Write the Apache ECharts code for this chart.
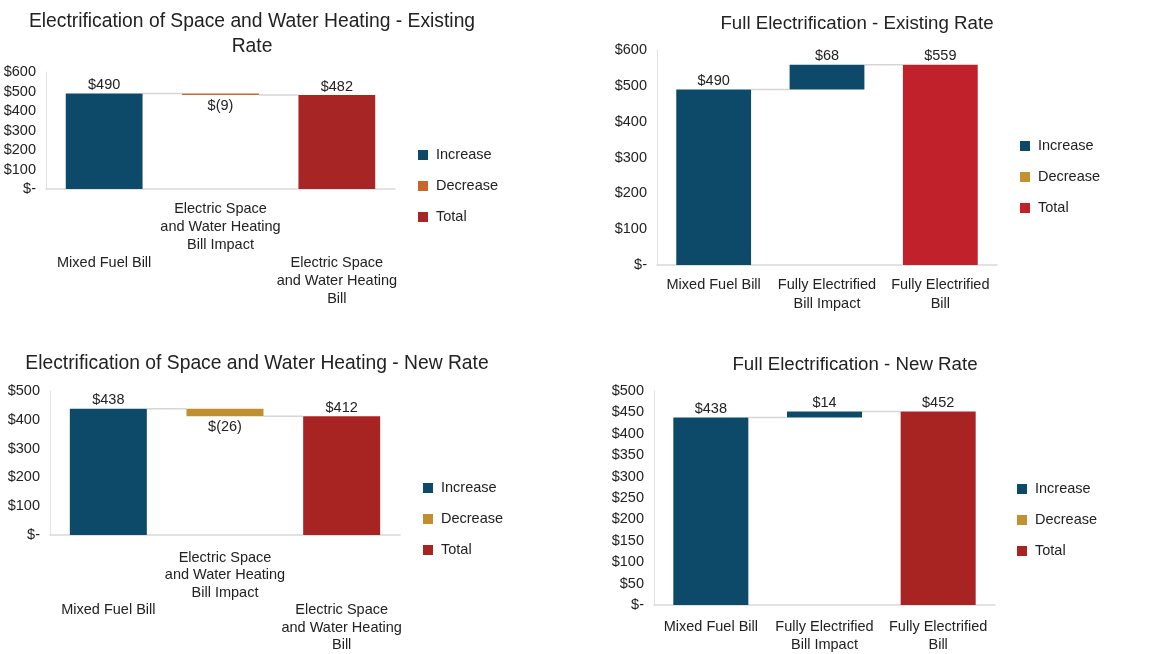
<!DOCTYPE html>
<html>
<head>
<meta charset="utf-8">
<title>Electrification bill impact</title>
<script src="https://cdn.jsdelivr.net/npm/echarts@6/dist/echarts.min.js"></script>
<style>
  html, body { margin: 0; padding: 0; background: #fff; }
  #main { width: 1156px; height: 654px; }
</style>
</head>
<body>
<div id="main"></div>
<script>
// chart data
const titles = [
  'Electrification of Space and Water Heating - Existing\nRate',
  'Full Electrification - Existing Rate',
  'Electrification of Space and Water Heating - New Rate',
  'Full Electrification - New Rate'
];
const heatingCats = ['Mixed Fuel Bill', 'Electric Space\nand Water Heating\nBill Impact', 'Electric Space\nand Water Heating\nBill'];
const fullCats = ['Mixed Fuel Bill', 'Fully Electrified\nBill Impact', 'Fully Electrified\nBill'];
const chartCats = [heatingCats, fullCats, heatingCats, fullCats];
const mixedBill = [490, 490, 438, 438];
const billImpact = [-9, 68, -26, 14];
const electrifiedBill = [482, 559, 412, 452];
const yMax = [600, 600, 500, 500];
const yStep = [100, 100, 100, 50];

// layout + colours per panel
const panels = [
  { grid: { left: 46, top: 72, width: 349, height: 117 }, title: [252, 9], titleSize: 19.3, legend: [418, 147],
    stagger: true, margin: 11, lineH: 18, dec: '#c8662c', total: '#a82525' },
  { grid: { left: 657, top: 50, width: 340, height: 215 }, title: [857, 11], titleSize: 18.7, legend: [1020, 138],
    stagger: false, margin: 11, lineH: 18.5, dec: '#c49030', total: '#c0212b' },
  { grid: { left: 50, top: 391, width: 350, height: 147 }, title: [257, 351], titleSize: 19.3, legend: [423, 480],
    stagger: true, margin: 14, lineH: 17.5, dec: '#c0902e', total: '#a82423' },
  { grid: { left: 654, top: 391, width: 341, height: 217 }, title: [855, 352], titleSize: 18.7, legend: [1017, 481],
    stagger: false, margin: 13, lineH: 18, dec: '#c49030', total: '#a82423' }
];
const blue = '#0d4a6a';
const font = 'Liberation Sans, Arial, sans-serif';
const ink = '#222';

const option = {
  backgroundColor: '#fff',
  animation: false,
  textStyle: { fontFamily: font },
  title: [], grid: [], xAxis: [], yAxis: [], legend: [], series: []
};

panels.forEach((p, k) => {
  const mixed = mixedBill[k], impact = billImpact[k], total = electrifiedBill[k];
  const low = Math.min(mixed, total), step = Math.abs(total - mixed);

  option.title.push({
    text: titles[k], left: p.title[0], top: p.title[1], textAlign: 'center', padding: 0,
    textStyle: { fontFamily: font, fontSize: p.titleSize, fontWeight: 'normal', color: ink, lineHeight: 25 }
  });
  option.grid.push(Object.assign({ containLabel: false }, p.grid));
  option.xAxis.push({
    type: 'category', gridIndex: k, data: chartCats[k],
    axisLine: { lineStyle: { color: '#d9d9d9', width: 1.5 } },
    axisTick: { show: false },
    axisLabel: {
      interval: 0, hideOverlap: false, margin: p.margin, color: ink, fontFamily: font, fontSize: 14.5, lineHeight: p.lineH,
      formatter: (v, i) => (p.stagger && i % 2 === 0 ? '\n\n\n' + v : v)
    }
  });
  option.yAxis.push({
    type: 'value', gridIndex: k, min: 0, max: yMax[k], interval: yStep[k],
    splitLine: { show: false },
    axisTick: { show: false },
    axisLine: { show: true, lineStyle: { color: '#e3e3e3', width: 1 } },
    axisLabel: { margin: 10, color: ink, fontFamily: font, fontSize: 14.5, formatter: v => (v === 0 ? '$-' : '$' + v) }
  });
  option.legend.push({
    orient: 'vertical', left: p.legend[0], top: p.legend[1], padding: 0,
    itemWidth: 10, itemHeight: 10, itemGap: 15, icon: 'rect', selectedMode: false,
    textStyle: { fontFamily: font, fontSize: 14.5, color: ink, lineHeight: 16, padding: [0, 0, 0, 3] },
    data: [
      { name: 'Increase', itemStyle: { color: blue } },
      { name: 'Decrease', itemStyle: { color: p.dec } },
      { name: 'Total', itemStyle: { color: p.total } }
    ]
  });

  const common = { type: 'bar', xAxisIndex: k, yAxisIndex: k, stack: 'w' + k, barWidth: '66%', emphasis: { disabled: true } };
  const lbl = { show: true, color: ink, fontFamily: font, fontSize: 14.5, distance: 1 };

  option.series.push(Object.assign({}, common, {
    name: 'base' + k, data: [null, low, null], itemStyle: { color: 'rgba(0,0,0,0)' }, silent: true
  }));
  option.series.push(Object.assign({}, common, {
    name: 'Increase', itemStyle: { color: blue },
    data: [mixed, impact > 0 ? step : null, null],
    label: Object.assign({}, lbl, { position: 'top', formatter: d => (d.dataIndex === 0 ? '$' + mixed : '$' + impact) })
  }));
  option.series.push(Object.assign({}, common, {
    name: 'Decrease', itemStyle: { color: p.dec },
    data: [null, impact < 0 ? step : null, null],
    label: Object.assign({}, lbl, { position: 'bottom', distance: 3, formatter: () => '$(' + Math.abs(impact) + ')' })
  }));
  option.series.push(Object.assign({}, common, {
    name: 'Total', itemStyle: { color: p.total },
    data: [null, null, total],
    label: Object.assign({}, lbl, { position: 'top', formatter: () => '$' + total })
  }));
  // connector lines between bars
  option.series.push({
    type: 'custom', name: 'link' + k, xAxisIndex: k, yAxisIndex: k, silent: true,
    data: [[0, mixed], [1, total]],
    encode: { x: 0, y: 1 },
    renderItem: (params, api) => {
      const i = api.value(0), v = api.value(1);
      const a = api.coord([i, v]), b = api.coord([i + 1, v]);
      const half = api.size([1, 0])[0] * 0.33;
      return {
        type: 'line',
        shape: { x1: a[0] + half, y1: a[1], x2: b[0] - half, y2: b[1] },
        style: { stroke: '#d6d6d6', lineWidth: 1.5 }
      };
    }
  });
});

const chart = echarts.init(document.getElementById('main'));
chart.setOption(option);
</script>
</body>
</html>
